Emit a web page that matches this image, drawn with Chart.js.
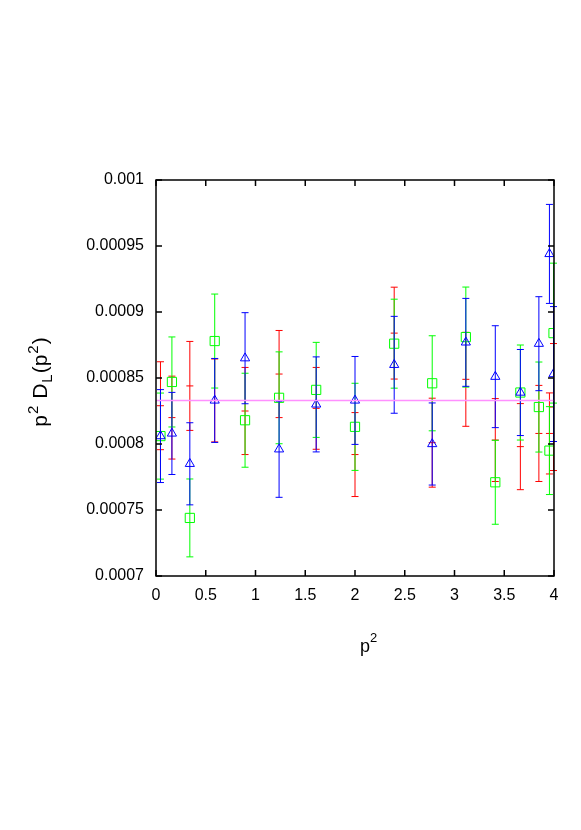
<!DOCTYPE html>
<html>
<head>
<meta charset="utf-8">
<script src="https://cdn.jsdelivr.net/npm/chart.js@4/dist/chart.umd.min.js"></script>
<style>
  body { margin: 0; background: #fff; }
  canvas { display: block; }
</style>
</head>
<body>
<canvas id="grafico" width="581" height="830"></canvas>
<script>
// valores
const p2 = [0.045, 0.16, 0.34, 0.59, 0.895, 1.237, 1.61, 2.0, 2.394, 2.776, 3.114, 3.41, 3.662, 3.848, 3.954, 3.995];

const rojo = [0.000829, 0.000820, 0.000844, 0.000833, 0.000825, 0.000853, 0.000827, 0.000792, 0.000884, 0.000801, 0.000849, 0.000803, 0.000798, 0.000808, 0.000808, 0.000828];
const rojoErr = [3.33e-5, 3.14e-5, 3.37e-5, 3.14e-5, 3.3e-5, 3.3e-5, 3.1e-5, 3.18e-5, 3.48e-5, 3.37e-5, 3.56e-5, 3.14e-5, 3.26e-5, 3.64e-5, 3.07e-5, 4.81e-5];

const verde = [0.000806, 0.000847, 0.000744, 0.000878, 0.000818, 0.000835, 0.000841, 0.000813, 0.000876, 0.000846, 0.000881, 0.000771, 0.000839, 0.000828, 0.000795, 0.000884];
const verdeErr = [3.26e-5, 3.41e-5, 2.95e-5, 3.56e-5, 3.56e-5, 3.48e-5, 3.6e-5, 3.3e-5, 3.37e-5, 3.6e-5, 3.79e-5, 3.18e-5, 3.6e-5, 3.41e-5, 3.33e-5, 5.3e-5];

const azul = [0.000806, 0.000808, 0.000785, 0.000833, 0.000865, 0.000796, 0.000830, 0.000833, 0.000860, 0.000800, 0.000877, 0.000851, 0.000839, 0.000876, 0.000944, 0.000853];
const azulErr = [3.52e-5, 3.11e-5, 3.11e-5, 3.18e-5, 3.45e-5, 3.64e-5, 3.6e-5, 3.33e-5, 3.67e-5, 3.11e-5, 3.33e-5, 3.86e-5, 3.26e-5, 3.56e-5, 3.75e-5, 5.11e-5];

// linea horizontal (ajuste)
const plateau = 0.000833;
const plateauX = [0, 4];

const xTicks = ["0", "0.5", "1", "1.5", "2", "2.5", "3", "3.5", "4"];
const yTicks = ["0.0007", "0.00075", "0.0008", "0.00085", "0.0009", "0.00095", "0.001"];

const fuente = "'Liberation Sans', Arial, sans-serif";

const puntos = (ys) => ys.map((v, i) => ({ x: p2[i], y: v }));

// barras de error, se dibujan justo antes de los puntos de cada serie
const barrasError = {
  id: "barrasError",
  beforeDatasetDraw(chart, args) {
    const ds = chart.data.datasets[args.index];
    if (!ds.errores) return;
    const ctx = chart.ctx;
    const sx = chart.scales.x;
    const sy = chart.scales.y;
    ctx.save();
    ctx.strokeStyle = ds.borderColor;
    ctx.lineWidth = 1;
    ds.data.forEach((p, i) => {
      const px = sx.getPixelForValue(p.x);
      const arriba = sy.getPixelForValue(p.y + ds.errores[i]);
      const abajo = sy.getPixelForValue(p.y - ds.errores[i]);
      ctx.beginPath();
      ctx.moveTo(px, arriba);
      ctx.lineTo(px, abajo);
      ctx.moveTo(px - 3.5, arriba);
      ctx.lineTo(px + 3.5, arriba);
      ctx.moveTo(px - 3.5, abajo);
      ctx.lineTo(px + 3.5, abajo);
      ctx.stroke();
    });
    ctx.restore();
  },
};

// marco con ticks hacia adentro en los cuatro lados + titulos
const marco = {
  id: "marco",
  afterDraw(chart) {
    const { ctx, chartArea: a } = chart;
    const sx = chart.scales.x;
    const sy = chart.scales.y;
    ctx.save();
    ctx.strokeStyle = "#000";
    ctx.lineWidth = 1.5;
    ctx.strokeRect(a.left, a.top, a.right - a.left, a.bottom - a.top);
    ctx.beginPath();
    sx.ticks.forEach((t) => {
      const px = sx.getPixelForValue(t.value);
      ctx.moveTo(px, a.bottom);
      ctx.lineTo(px, a.bottom - 6);
      ctx.moveTo(px, a.top);
      ctx.lineTo(px, a.top + 6);
    });
    sy.ticks.forEach((t) => {
      const py = sy.getPixelForValue(t.value);
      ctx.moveTo(a.left, py);
      ctx.lineTo(a.left + 6, py);
      ctx.moveTo(a.right, py);
      ctx.lineTo(a.right - 6, py);
    });
    ctx.stroke();

    // titulo eje x: p^2
    ctx.fillStyle = "#000";
    ctx.textBaseline = "alphabetic";
    ctx.font = "18px " + fuente;
    ctx.fillText("p", 360, 652);
    ctx.font = "13px " + fuente;
    ctx.fillText("2", 370, 642);

    // titulo eje y: p^2 D_L(p^2)
    const partes = [
      { t: "p", s: 21, d: 0 },
      { t: "2", s: 15, d: -9 },
      { t: " D", s: 21, d: 0 },
      { t: "L", s: 15, d: 5 },
      { t: "(p", s: 21, d: 0 },
      { t: "2", s: 15, d: -9 },
      { t: ")", s: 21, d: 0 },
    ];
    let ancho = 0;
    partes.forEach((p) => {
      ctx.font = p.s + "px " + fuente;
      p.w = ctx.measureText(p.t).width;
      ancho += p.w;
    });
    const hueco = 1;
    const largo = ancho + hueco * (partes.length - 1);
    ctx.translate(47, 382);
    ctx.rotate(-Math.PI / 2);
    let cx = -largo / 2;
    partes.forEach((p) => {
      ctx.font = p.s + "px " + fuente;
      ctx.fillText(p.t, cx, p.d);
      cx += p.w + hueco;
    });
    ctx.restore();
  },
};

new Chart(document.querySelector("#grafico"), {
  type: "scatter",
  data: {
    datasets: [
      {
        type: "line",
        data: plateauX.map((x) => ({ x: x, y: plateau })),
        borderColor: "#ff90ff",
        borderWidth: 1.5,
        pointRadius: 0,
      },
      {
        data: puntos(azul),
        errores: azulErr,
        borderColor: "#0000ff",
        backgroundColor: "rgba(0,0,0,0)",
        pointStyle: "triangle",
        pointRadius: 5.3,
        pointBorderWidth: 1,
      },
      {
        data: puntos(verde),
        errores: verdeErr,
        borderColor: "#00ff00",
        backgroundColor: "rgba(0,0,0,0)",
        pointStyle: "rect",
        pointRadius: 6.5,
        pointBorderWidth: 1,
      },
      {
        data: puntos(rojo),
        errores: rojoErr,
        borderColor: "#ff0000",
        backgroundColor: "rgba(0,0,0,0)",
        pointStyle: "line",
        pointRadius: 3.5,
        pointBorderWidth: 1,
      },
    ],
  },
  options: {
    responsive: false,
    animation: false,
    layout: { padding: { left: 0, right: 27, top: 180, bottom: 0 } },
    plugins: {
      legend: { display: false },
      tooltip: { enabled: false },
    },
    scales: {
      x: {
        type: "linear",
        min: 0,
        max: 4,
        grid: { display: false },
        border: { display: false },
        ticks: {
          stepSize: 0.5,
          padding: 2,
          color: "#000",
          font: { family: fuente, size: 16 },
          maxRotation: 0,
          callback: (v, i) => xTicks[i],
        },
        afterFit: (s) => { s.height = 254; },
      },
      y: {
        min: 0.0007,
        max: 0.001,
        grid: { display: false },
        border: { display: false },
        ticks: {
          stepSize: 0.00005,
          padding: 4,
          color: "#000",
          font: { family: fuente, size: 16 },
          callback: (v, i) => yTicks[i],
        },
        afterFit: (s) => { s.width = 156; },
      },
    },
  },
  plugins: [barrasError, marco],
});
</script>
</body>
</html>
